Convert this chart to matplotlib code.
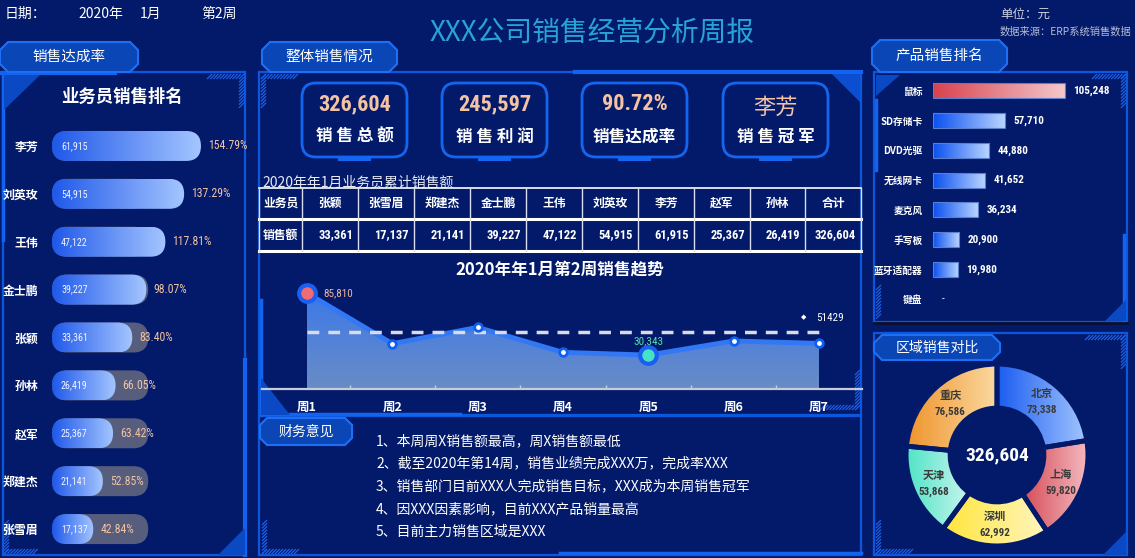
import numpy as np
import matplotlib
matplotlib.use('Agg')
import matplotlib.pyplot as plt
from matplotlib.patches import FancyBboxPatch, Polygon, Rectangle
from matplotlib.colors import LinearSegmentedColormap
from matplotlib import font_manager

# ---------------- data ----------------
header_items = ['日期：', '2020年', '1月', '第2周']
title_text = 'XXX公司销售经营分析周报'
unit_text = '单位：元'
source_text = '数据来源：ERP系统销售数据'

rep_names = ['李芳', '刘英玫', '王伟', '金士鹏', '张颖', '孙林', '赵军', '郑建杰', '张雪眉']
rep_sales = [61915, 54915, 47122, 39227, 33361, 26419, 25367, 21141, 17137]
rep_rate = [154.79, 137.29, 117.81, 98.07, 83.40, 66.05, 63.42, 52.85, 42.84]
rep_target = 40000

kpi_values = ['326,604', '245,597', '90.72%', '李芳']
kpi_labels = ['销 售 总 额', '销 售 利 润', '销售达成率', '销 售 冠 军']

table_title = '2020年年1月业务员累计销售额'
table_row_heads = ['业务员', '销售额']
table_names = ['张颖', '张雪眉', '郑建杰', '金士鹏', '王伟', '刘英玫', '李芳', '赵军', '孙林']
table_sales = [33361, 17137, 21141, 39227, 47122, 54915, 61915, 25367, 26419]
table_total_label = '合计'

trend_title = '2020年年1月第2周销售趋势'
weeks = ['周1', '周2', '周3', '周4', '周5', '周6', '周7']
week_sales = [85810, 40540, 55130, 32760, 30343, 42960, 40810]
week_ref = 51429

products = ['鼠标', 'SD存储卡', 'DVD光驱', '无线网卡', '麦克风', '手写板', '蓝牙适配器', '键盘']
product_sales = [105248, 57710, 44880, 41652, 36234, 20900, 19980, None]

regions = ['北京', '上海', '深圳', '天津', '重庆']
region_sales = [73338, 59820, 62992, 53868, 76586]

notes_title = '财务意见'
notes = ['1、本周周X销售额最高，周X销售额最低',
         '2、截至2020年第14周，销售业绩完成XXX万，完成率XXX',
         '3、销售部门目前XXX人完成销售目标，XXX成为本周销售冠军',
         '4、因XXX因素影响，目前XXX产品销量最高',
         '5、目前主力销售区域是XXX']

tab_titles = ['销售达成率', '整体销售情况', '产品销售排名', '区域销售对比']
left_title = '业务员销售排名'

# ---------------- style ----------------
W, H = 1135, 558
BG = '#031a6b'
EDGE = '#0d57dc'
TABF = '#0a46b6'
TABE = '#1f6ff5'
PEACH = '#f3c3a3'
CJK = ['Noto Sans CJK SC', 'DejaVu Sans']

installed = {f.name for f in font_manager.fontManager.ttflist}
COND = next((n for n in ['Roboto Condensed', 'Liberation Sans Narrow', 'Open Sans Condensed']
             if n in installed), None)
if COND is None:
    NUMF = dict(family=['DejaVu Sans'], fontstretch='condensed')
else:
    NUMF = dict(family=[COND, 'DejaVu Sans'])

plt.rcParams['font.family'] = CJK

fig = plt.figure(figsize=(W / 100, H / 100), dpi=100, facecolor=BG)
bg = fig.add_axes([0, 0, 1, 1])
bg.set_xlim(0, W)
bg.set_ylim(H, 0)
bg.axis('off')
bg.set_zorder(0)


def px_axes(x0, y0, x1, y1, z=2):
    ax = fig.add_axes([x0 / W, 1 - y1 / H, (x1 - x0) / W, (y1 - y0) / H])
    ax.set_zorder(z)
    ax.patch.set_alpha(0)
    return ax


def tab(x0, y0, x1, y1, text, c=8, fs=10.5):
    pts = [(x0 + c, y0), (x1 - c, y0), (x1, y0 + c), (x1, y1 - c), (x1 - c, y1),
           (x0 + c, y1), (x0, y1 - c), (x0, y0 + c)]
    bg.add_patch(Polygon(pts, closed=True, fc=TABF, ec=TABE, lw=1.5, zorder=5))
    bg.text((x0 + x1) / 2, (y0 + y1) / 2, text, color='white', fontsize=fs,
            ha='center', va='center', zorder=6, family=CJK)


def hatch(x0, y0, x1, y1, step=3.2):
    h = y1 - y0
    for x in np.arange(x0, x1 - h, step):
        bg.plot([x, x + h], [y1, y0], color='#1d5fe6', lw=0.9, zorder=3, solid_capstyle='butt')


def vhatch(x0, y0, x1, y1, step=3.2):
    w = x1 - x0
    for y in np.arange(y0, y1 - w, step):
        bg.plot([x0, x1], [y + w, y], color='#1d5fe6', lw=0.9, zorder=3, solid_capstyle='butt')


def tri(pts, c='#0a48c4'):
    bg.add_patch(Polygon(pts, closed=True, fc=c, ec='none', zorder=3))


def panel(x0, y0, x1, y1):
    bg.add_patch(Rectangle((x0, y0), x1 - x0, y1 - y0, fc='none', ec=EDGE, lw=1.6, zorder=2))


def hgrad(c0, c1):
    return LinearSegmentedColormap.from_list('g', [c0, c1])


GRAD = np.linspace(0, 1, 256).reshape(1, -1)

# ---------------- header ----------------
for x, s in zip([5, 78, 140, 201], header_items):
    bg.text(x, 14, s, color='white', fontsize=10, va='center', ha='left', family=CJK)
bg.text(592, 33, title_text, color='#27a3d6', fontsize=20, ha='center', va='center', family=CJK)
bg.text(1000, 14, unit_text, color='#c9cfe0', fontsize=9, va='center', family=CJK)
bg.text(1000, 32, source_text, color='#b4bdd6', fontsize=7.4, va='center', style='italic', family=CJK)

# ---------------- panels ----------------
panel(3, 72, 245, 555)
panel(259, 72, 861, 415)
panel(259, 416, 861, 555)
panel(874, 72, 1127, 322)
panel(874, 333, 1127, 555)
# accents
bg.plot([575, 861], [72, 72], color='#1163f0', lw=3, zorder=3)
bg.plot([0, 115], [73, 73], color='#1163f0', lw=3, zorder=3)
bg.plot([245, 245], [360, 555], color='#1163f0', lw=3, zorder=3)
bg.plot([3, 3], [75, 240], color='#1163f0', lw=2.5, zorder=3)
bg.plot([261, 261], [300, 415], color='#1163f0', lw=2.5, zorder=3)
bg.plot([262, 460], [414, 414], color='#1163f0', lw=2.5, zorder=3)
bg.plot([560, 861], [553, 553], color='#1163f0', lw=2.5, zorder=3)
bg.plot([876, 876], [100, 170], color='#1163f0', lw=2.5, zorder=3)
bg.plot([1124, 1124], [235, 322], color='#1163f0', lw=2.5, zorder=3)
bg.plot([874, 1127], [323, 323], color='#0a0f2e', lw=2, zorder=3)

tri([(4, 75), (40, 75), (4, 110)])
hatch(207, 74, 244, 79)
vhatch(239, 74, 244, 110)
tri([(245, 528), (245, 555), (218, 555)])
hatch(4, 549, 40, 554)
vhatch(4, 520, 9, 554)

hatch(261, 74, 300, 79)
vhatch(261, 74, 266, 110)
tri([(832, 74), (860, 74), (860, 102)], c='#0b4fd0')
tri([(261, 378), (261, 415), (290, 415)])
hatch(820, 405, 860, 410)
vhatch(855, 370, 860, 412)

tri([(876, 75), (900, 75), (876, 96)])
hatch(1092, 74, 1126, 79)
vhatch(1121, 74, 1126, 108)
tri([(1126, 300), (1126, 321), (1105, 321)])
vhatch(876, 285, 881, 320)

hatch(1085, 335, 1126, 340)
vhatch(1121, 335, 1126, 370)
tri([(1126, 532), (1126, 555), (1103, 555)])
hatch(876, 549, 915, 554)
vhatch(876, 520, 881, 554)

hatch(262, 549, 300, 554)
vhatch(262, 520, 267, 554)

# tabs
tab(0, 42, 138, 72, tab_titles[0])
tab(262, 42, 397, 72, tab_titles[1])
tab(872, 40, 1007, 72, tab_titles[2])
tab(874, 335, 1000, 360, tab_titles[3], fs=10)
tab(260, 418, 352, 445, notes_title, c=7, fs=10)

# ---------------- left panel: salesperson ranking ----------------
bg.text(122, 97, left_title, color='white', fontsize=12.5, fontweight='bold',
        ha='center', va='center', family=CJK)

axL = px_axes(52, 122, 250, 553)
XL, nL = 82300.0, len(rep_names)
axL.set_autoscale_on(False)
axL.set_xlim(0, XL)
axL.set_ylim(nL - 0.5, -0.5)
ux = XL / 198.0
uy = nL / 431.0
bh = 30 * uy
rr = 15 * ux
asp = uy / ux
cmapL = hgrad('#1f58ea', '#a5c6ff')
for i, (v, p) in enumerate(zip(rep_sales, rep_rate)):
    track = FancyBboxPatch((0, i - bh / 2), rep_target, bh,
                           boxstyle=f'round,pad=0,rounding_size={rr}',
                           mutation_aspect=asp, fc='#575d7c', ec='none', zorder=1)
    axL.add_patch(track)
    bar = FancyBboxPatch((0, i - bh / 2), v, bh,
                         boxstyle=f'round,pad=0,rounding_size={rr}',
                         mutation_aspect=asp, fc='none', ec='none', zorder=3)
    axL.add_patch(bar)
    im = axL.imshow(GRAD, extent=[0, v, i + bh / 2, i - bh / 2], cmap=cmapL,
                    aspect='auto', zorder=2, interpolation='bilinear')
    im.set_clip_path(bar)
    axL.text(9 * ux, i, f'{v:,}', va='center', ha='left', fontsize=7.2,
             color='#f2f5ff', zorder=4, **NUMF)
    axL.text(v + 7 * ux, i, f'{p:.2f}%', va='center', ha='left', fontsize=8.5,
             color=PEACH, zorder=4, **NUMF)
axL.set_xlim(0, XL)
axL.set_ylim(nL - 0.5, -0.5)
axL.set_yticks(np.arange(nL), rep_names)
axL.set_xticks([])
axL.tick_params(axis='y', length=0, pad=10, labelcolor='white', labelsize=8.6)
for t in axL.get_yticklabels():
    t.set_fontweight('bold')
    t.set_family(CJK)
for s in axL.spines.values():
    s.set_visible(False)

# ---------------- KPI cards ----------------
card_x = [302, 442, 582, 723]
for x0, val, lab in zip(card_x, kpi_values, kpi_labels):
    bg.add_patch(FancyBboxPatch((x0, 83), 105, 74, boxstyle='round,pad=0,rounding_size=14',
                                fc=BG, ec='#1466f0', lw=2, zorder=3))
    bg.add_patch(Rectangle((x0 + 36, 157), 33, 3.5, fc='#1466f0', ec='none', zorder=3))
    if any('\u4e00' <= ch <= '\u9fff' for ch in val):
        bg.text(x0 + 52.5, 107, val, color=PEACH, fontsize=16, ha='center', va='center',
                zorder=4, family=CJK)
    else:
        bg.text(x0 + 52.5, 104, val, color=PEACH, fontsize=16, fontweight='bold',
                ha='center', va='center', zorder=4, **NUMF)
    bg.text(x0 + 52.5, 137, lab, color='white', fontsize=12, fontweight='bold',
            ha='center', va='center', zorder=4, family=CJK)

# ---------------- table ----------------
bg.text(262, 182, table_title, color='#e6eaf5', fontsize=10, ha='left', va='center', family=CJK)
col_edges = [259, 302, 358, 414, 470, 526, 582, 638, 694, 750, 805, 861]
bg.plot([259, 861], [188, 188], color='white', lw=1.2, zorder=3)
bg.plot([259, 861], [219, 219], color='white', lw=2.2, zorder=3)
bg.plot([259, 861], [251, 251], color='white', lw=2.2, zorder=3)
for x in col_edges:
    bg.plot([x, x], [188, 251], color='#d8dcec', lw=1, zorder=3)
bg.text(280.5, 203, table_row_heads[0], color='white', fontsize=8.5, fontweight='bold',
        ha='center', va='center', family=CJK, zorder=4)
bg.text(280.5, 235, table_row_heads[1], color='white', fontsize=8.5, fontweight='bold',
        ha='center', va='center', family=CJK, zorder=4)
cells_n = table_names + [table_total_label]
cells_v = table_sales + [sum(table_sales)]
for j, (nm, v) in enumerate(zip(cells_n, cells_v)):
    xa, xb = col_edges[j + 1], col_edges[j + 2]
    bg.text((xa + xb) / 2, 203, nm, color='white', fontsize=8.5, fontweight='bold',
            ha='center', va='center', family=CJK, zorder=4)
    bg.text(xb - 5, 235, f'{v:,}', color='white', fontsize=9, fontweight='bold',
            ha='right', va='center', zorder=4, **NUMF)

# ---------------- trend chart ----------------
bg.text(560, 270, trend_title, color='white', fontsize=12, fontweight='bold',
        ha='center', va='center', family=CJK)
axT = px_axes(262, 280, 862, 389)
xs = np.arange(len(weeks))
YT = 97500
axT.set_autoscale_on(False)
axT.set_xlim(-0.527, 6.504)
axT.set_ylim(0, YT)
poly = axT.fill_between(xs, week_sales, 0, color='none', lw=0)
vgrad = np.linspace(1, 0, 256).reshape(-1, 1)
imT = axT.imshow(vgrad, extent=[xs[0], xs[-1], 0, max(week_sales)], aspect='auto',
                 cmap=hgrad('#6a8cc6', '#3b79e8'), zorder=1, interpolation='bilinear', origin='upper')
imT.set_clip_path(poly.get_paths()[0], axT.transData)
axT.plot(xs, week_sales, color='#3278f4', lw=3.5, zorder=3, solid_joinstyle='round')
axT.hlines(week_ref, xs[0], xs[-1], colors='#d9dbe6', linestyles=(0, (3.4, 2.6)), lw=2.5, zorder=4)
imax = int(np.argmax(week_sales))
imin = int(np.argmin(week_sales))
norm_idx = [k for k in range(len(weeks)) if k not in (imax, imin)]
axT.plot(xs[norm_idx], np.array(week_sales)[norm_idx], 'o', ms=5.5, mfc='white',
         mec='#0f60f2', mew=2, zorder=5)
axT.plot(xs[imax], week_sales[imax], 'o', ms=12, mfc='#f06c74', mec='#1a5ff0', mew=3, zorder=5)
axT.plot(xs[imin], week_sales[imin], 'o', ms=12, mfc='#45e2c4', mec='#1a5ff0', mew=3, zorder=5)
axT.annotate(f'{week_sales[imax]:,}', (xs[imax], week_sales[imax]), xytext=(11.5, 0),
             textcoords='offset points', ha='left', va='center', color='#f0b49a', fontsize=8, **NUMF)
axT.annotate(f'{week_sales[imin]:,}', (xs[imin], week_sales[imin]), xytext=(0, 10),
             textcoords='offset points', ha='center', va='center', color='#55dfae', fontsize=8, **NUMF)
axT.annotate('\u25c6', (xs[-1], week_ref), xytext=(-11, 10), textcoords='offset points',
             ha='center', va='center', color='white', fontsize=5, family=['DejaVu Sans'])
axT.annotate(f'{week_ref}', (xs[-1], week_ref), xytext=(-2, 10), textcoords='offset points',
             ha='left', va='center', color='white', fontsize=8, **NUMF)
axT.set_xlim(-0.527, 6.504)
axT.set_ylim(0, YT)
axT.set_xticks(xs, weeks)
axT.set_xticks(xs[:-1] + 0.5, minor=True)
axT.set_yticks([])
axT.tick_params(axis='x', which='major', length=0, pad=8.5, labelcolor='white', labelsize=9)
axT.tick_params(axis='x', which='minor', direction='in', length=3, width=1, color='#c8ccd8')
for t in axT.get_xticklabels():
    t.set_fontweight('bold')
    t.set_family(CJK)
for k in ['top', 'left', 'right']:
    axT.spines[k].set_visible(False)
axT.spines['bottom'].set_color('#c8ccd8')
axT.spines['bottom'].set_linewidth(1.6)

# ---------------- product ranking ----------------
axP = px_axes(933, 76, 1125, 314)
XP, nP = 153100.0, len(products)
axP.set_autoscale_on(False)
uxp = XP / 192.0
uyp = nP / 238.0
pbh = 15 * uyp
pvals = [v if v is not None else np.nan for v in product_sales]
ip = int(np.nanargmax(pvals))
for i, v in enumerate(product_sales):
    if v is None:
        axP.text(9 * uxp, i, '-', va='center', ha='left', color='white', fontsize=8, **NUMF)
        continue
    b = axP.barh(i, v, height=pbh, left=0, color='none', edgecolor='#5a7fd0', lw=0.8, zorder=3)[0]
    cm = hgrad('#d8424e', '#f3c8cc') if i == ip else hgrad('#0a50f0', '#bcd6ff')
    im = axP.imshow(GRAD, extent=[0, v, i + pbh / 2, i - pbh / 2], cmap=cm, aspect='auto',
                    zorder=2, interpolation='bilinear')
    im.set_clip_path(b)
    axP.text(v + 8 * uxp, i, f'{v:,}', va='center', ha='left', color='white',
             fontsize=8, fontweight='bold', **NUMF)
axP.set_xlim(0, XP)
axP.set_ylim(nP - 0.5, -0.5)
axP.set_yticks(np.arange(nP), products)
axP.set_xticks([])
axP.tick_params(axis='y', length=0, pad=7.5, labelcolor='white', labelsize=7)
for t in axP.get_yticklabels():
    t.set_fontweight('bold')
    t.set_family(CJK)
for s in axP.spines.values():
    s.set_visible(False)

# ---------------- region donut ----------------
axD = px_axes(897, 355, 1097, 555)
wedges, _ = axD.pie(region_sales, startangle=90, counterclock=False, radius=1,
                    colors=['none'] * len(regions),
                    wedgeprops=dict(width=0.484, edgecolor=BG, linewidth=3.5))
dcols = [('#1a5cf0', '#a3c6ff'), ('#d64d58', '#f4bcc2'), ('#ffe53a', '#fff6c0'),
         ('#4fe4c6', '#cbf5ef'), ('#ef952c', '#fbd9a2')]
for w, (c0, c1), nm, v in zip(wedges, dcols, regions, region_sales):
    w.set_zorder(3)
    ext = w.get_path().get_extents()
    im = axD.imshow(GRAD, extent=[ext.x0, ext.x1, ext.y0, ext.y1], cmap=hgrad(c0, c1),
                    aspect='auto', zorder=2, interpolation='bilinear')
    im.set_clip_path(w)
    th = np.deg2rad((w.theta1 + w.theta2) / 2)
    cx, cy = 0.765 * np.cos(th), 0.765 * np.sin(th)
    axD.text(cx, cy + 0.09, nm, ha='center', va='center', color='#3a3a3a', fontsize=8,
             fontweight='bold', family=CJK, zorder=4)
    axD.text(cx, cy - 0.09, f'{v:,}', ha='center', va='center', color='#3a3a3a', fontsize=8,
             fontweight='bold', zorder=4, **NUMF)
axD.text(0, 0, f'{sum(region_sales):,}', ha='center', va='center', color='white',
         fontsize=14, fontweight='bold', zorder=4, **NUMF)
axD.set_xlim(-1.1, 1.1)
axD.set_ylim(-1.1, 1.1)
axD.set_aspect('equal')
axD.axis('off')

# ---------------- notes ----------------
for k, s in enumerate(notes):
    bg.text(376, 441 + 22.7 * k, s, color='white', fontsize=10, ha='left', va='center', family=CJK)

fig.savefig('out.png', dpi=100, facecolor=BG)
